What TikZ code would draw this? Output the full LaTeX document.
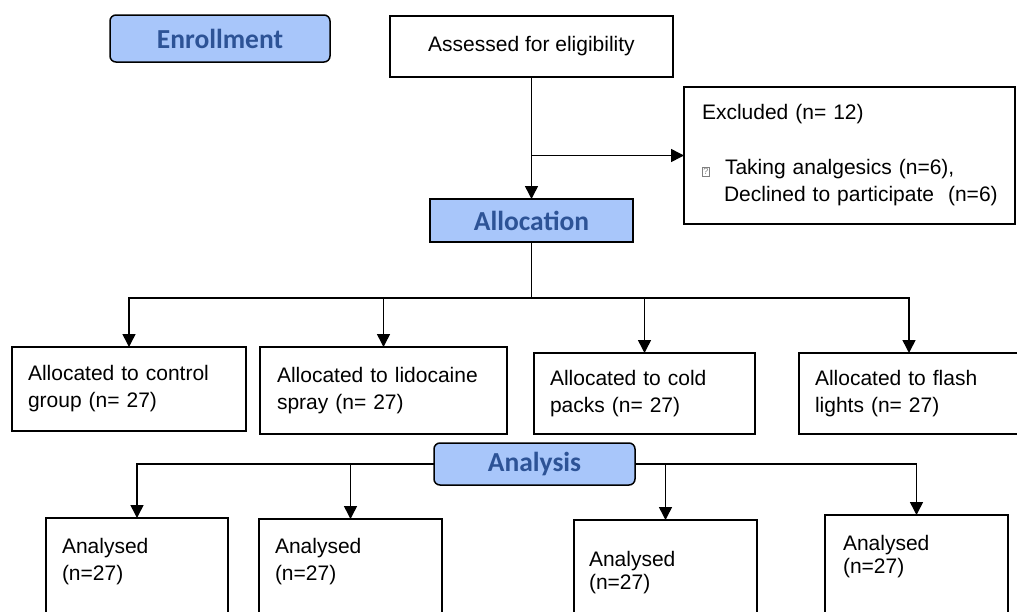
\documentclass[tikz,border=0pt]{standalone}
\usepackage{fontspec}
\setmainfont{Liberation Sans}
\newfontfamily\hdrfamily{Carlito}
\usetikzlibrary{arrows.meta}
\definecolor{hdrfill}{RGB}{168,198,250}
\definecolor{hdrtext}{RGB}{45,83,150}
\newcommand\missingglyph{{\fboxsep=0.8pt\fboxrule=0.6pt\color{gray}\fbox{\fontsize{9}{9}\selectfont ?}}}
\begin{document}
\begin{tikzpicture}[x=1pt,y=-1pt,
  hdr/.style={draw, line width=1.5pt, fill=hdrfill, text=hdrtext, rounded corners=6pt,
    inner sep=0pt, outer sep=0pt, font=\hdrfamily\bfseries\fontsize{27.5}{30}\selectfont},
  box/.style={draw, line width=1.4pt, inner sep=0pt, outer sep=0pt, align=left,
    font=\fontsize{21}{27}\selectfont},
  obox/.style={draw, line width=1.4pt, inner sep=0pt, outer sep=0pt, minimum height=140pt},
  txt/.style={inner sep=0pt, outer sep=0pt, align=left, font=\fontsize{21}{27}\selectfont},
  txtb/.style={inner sep=0pt, outer sep=0pt, align=left, font=\fontsize{21}{23}\selectfont},
  ln/.style={line width=1.5pt},
  arr/.style={line width=1.5pt, -{Triangle[length=13pt,width=13pt]}}]
\useasboundingbox (0,0) rectangle (1017,611);
\begin{scope}
\clip (0,0) rectangle (1017,611);
% headers
\node[hdr, minimum width=220pt, minimum height=47pt] (enrol) at (220,38.5) {Enrollment};
\node[hdr, sharp corners, minimum width=203pt, minimum height=43pt] (alloc) at (531.5,220.5) {Allocation};
\node[hdr, minimum width=201pt, minimum height=42pt] (ana) at (534.5,464) {Analysis};
% top boxes
\node[box, align=center, minimum width=283pt, minimum height=61pt, anchor=north west] (assess) at (390,16) {Assessed for eligibility};
\node[box, text width=331pt, minimum height=137pt, anchor=north west] (excl) at (684,87)
  {\hspace*{18pt}Excluded (n= 12)\\[28pt]\hspace*{18pt}\makebox[23pt][l]{\missingglyph}Taking analgesics (n=6),\\\hspace*{40pt}Declined to participate\ \ (n=6)};
% allocation boxes
\node[box, inner xsep=16pt, text width=202pt, minimum height=84pt, anchor=north west] (al1) at (12,347) {Allocated to control\\group (n= 27)};
\node[box, inner xsep=17pt, text width=213pt, minimum height=87pt, anchor=north west] (al2) at (260,347) {Allocated to lidocaine\\spray (n= 27)};
\node[box, inner xsep=16pt, text width=189pt, minimum height=81pt, anchor=north west] (al3) at (534,353) {Allocated to cold\\packs (n= 27)};
\node[box, inner xsep=16pt, text width=188pt, minimum height=81pt, anchor=north west] (al4) at (799,353) {Allocated to flash\\lights (n= 27)};
% analysed boxes
\node[obox, minimum width=182pt, anchor=north west] (an1) at (46,518) {};
\node[obox, minimum width=183pt, anchor=north west] (an2) at (259,519) {};
\node[obox, minimum width=183pt, anchor=north west] (an3) at (574,520) {};
\node[obox, minimum width=183pt, anchor=north west] (an4) at (825,515) {};
\node[txt, anchor=north west] (an1t) at ([xshift=16pt,yshift=-20pt]an1.north west) {Analysed\\(n=27)};
\node[txt, anchor=north west] (an2t) at ([xshift=16pt,yshift=-19pt]an2.north west) {Analysed\\(n=27)};
\node[txtb, anchor=north west] (an3t) at ([xshift=15pt,yshift=-31pt]an3.north west) {Analysed\\(n=27)};
\node[txtb, anchor=north west] (an4t) at ([xshift=18pt,yshift=-20pt]an4.north west) {Analysed\\(n=27)};
% connectors
\draw[arr] (assess.south) -- (alloc.north);
\draw[arr] (assess.south |- excl.west) -- (excl.west);
\draw[ln] (alloc.south) -- ++(0,56) coordinate (split);
\draw[arr] (split) -| (al1.north);
\draw[arr] (split -| al2.north) -- (al2.north);
\draw[arr] (split) -| (al4.north);
\draw[arr] (split -| al3.north) -- (al3.north);
\draw[arr] (ana.west) -| (an1.north);
\draw[arr] (ana.west -| an2.north) -- (an2.north);
\draw[arr] (ana.east) -| (an4.north);
\draw[arr] (ana.east -| an3.north) -- (an3.north);
\end{scope}
\end{tikzpicture}
\end{document}
